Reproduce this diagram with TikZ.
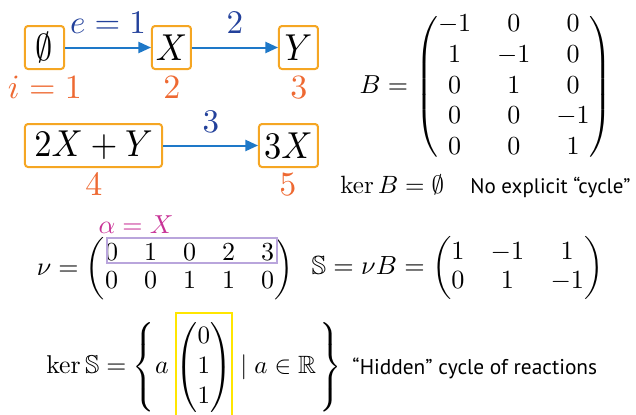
\documentclass[tikz,border=0pt]{standalone}
\usepackage{amsmath,amssymb}
\usepackage[no-math]{fontspec}
\newfontfamily\sansfnt{PT Sans}
\usetikzlibrary{arrows.meta}
\definecolor{boxorange}{RGB}{245,166,35}
\definecolor{arrowblue}{RGB}{30,120,200}
\definecolor{labelblue}{RGB}{35,65,155}
\definecolor{idxorange}{RGB}{238,105,50}
\definecolor{alphamag}{RGB}{200,50,150}
\definecolor{rowlav}{RGB}{185,165,220}
\definecolor{vecyellow}{RGB}{255,230,0}
\newcommand{\sbx}[2]{\scalebox{#1}{#2}}
\newcommand{\spc}[1]{\scalebox{1.38}[1.5]{#1}}
\newcommand{\vecph}{\vphantom{\begin{pmatrix}0\\1\\1\end{pmatrix}}}
\tikzset{
  species/.style={draw=boxorange, line width=0.8pt, rounded corners=1.2pt,
    minimum height=17.2pt, inner sep=0pt},
  reac/.style={draw=arrowblue, line width=0.8pt, -{Triangle[length=5pt,width=4.4pt]}},
  rlabel/.style={text=labelblue, inner sep=0pt},
  ilabel/.style={text=idxorange, inner sep=0pt},
  eqn/.style={inner sep=0pt},
  sanstext/.style={inner sep=0pt, font=\sansfnt\fontsize{8.4}{10}\selectfont},
}
\begin{document}
\begin{tikzpicture}[x=0.4pt,y=-0.4pt]
\useasboundingbox (0,0) rectangle (636,415);
% reaction network
\node[species, minimum width=15.6pt] (s1) at (44.5,47.5) {\spc{$\emptyset$}};
\node[species, minimum width=15.6pt] (s2) at (171.5,47.5) {\spc{$X$}};
\node[species, minimum width=15.6pt] (s3) at (298.5,47.5) {\spc{$Y$}};
\node[species, minimum width=54.8pt] (s4) at (93.5,145.5) {\spc{$2X+Y$}};
\node[species, minimum width=23.6pt] (s5) at (288.5,145.5) {\spc{$3X$}};
\draw[reac] (s1) -- (s2);
\draw[reac] (s2) -- (s3);
\draw[reac] (s4) -- (s5);
\node[rlabel] (e1) at (108,23) {\sbx{1.32}{$e=1$}};
\node[rlabel] (e2) at (235,23) {\sbx{1.32}{$2$}};
\node[rlabel] (e3) at (211,122) {\sbx{1.32}{$3$}};
\node[ilabel] (i1) at (45,87) {\sbx{1.36}{$i=1$}};
\node[ilabel] (i2) at (172,88) {\sbx{1.36}{$2$}};
\node[ilabel] (i3) at (299,88) {\sbx{1.36}{$3$}};
\node[ilabel] (i4) at (94,185) {\sbx{1.36}{$4$}};
\node[ilabel] (i5) at (288,185) {\sbx{1.36}{$5$}};
% B matrix
\node[eqn] (Bmat) at (486,87)
  {\sbx{1.04}{\fontsize{10}{11.8}\selectfont$B=\begin{pmatrix}-1&0&0\\1&-1&0\\0&1&0\\0&0&-1\\0&0&1\end{pmatrix}$}};
\node[eqn, anchor=base west] (kerB) at (340,193) {$\ker B=\emptyset$};
\node[sanstext, anchor=base west] (noexp) at (470,193) {No explicit “cycle”};
% nu matrix
\node[eqn] (numat) at (165,269)
  {\sbx{1.04}{\fontsize{10}{10.8}\selectfont$\nu=\begin{pmatrix}0&1&0&2&3\\0&0&1&1&0\end{pmatrix}$}};
\draw[rowlav, line width=0.5pt] (107,238) rectangle (277,263);
\node[eqn, text=alphamag] (alpha) at (136,225) {\sbx{1.04}{$\alpha=X$}};
% S matrix
\node[eqn] (Smat) at (457.5,268)
  {\sbx{1.05}{\fontsize{10}{11.4}\selectfont$\mathbb{S}=\nu B=\begin{pmatrix}1&-1&1\\0&1&-1\end{pmatrix}$}};
% kernel of S
\node[eqn, draw=vecyellow, line width=0.6pt, minimum width=20.8pt,
  minimum height=43.2pt] (vec) at (204,367)
  {\fontsize{10}{12}\selectfont$\begin{pmatrix}0\\1\\1\end{pmatrix}$};
\node[eqn, anchor=base east] (lhs) at (127,373) {\sbx{1.03}{$\ker\mathbb{S}=$}};
\node[eqn] (lbrace) at (145,367) {\fontsize{10}{12}\selectfont$\left\{\vecph\right.$};
\node[eqn, anchor=base] (acoef) at (162,373) {\sbx{1.03}{$a$}};
\node[eqn, anchor=base west] (rhs) at (240,373) {$\mid a\in\mathbb{R}$};
\node[eqn] (rbrace) at (329,367) {\fontsize{10}{12}\selectfont$\left.\vecph\right\}$};
\node[sanstext, anchor=base west, font=\sansfnt\fontsize{8.55}{10}\selectfont] (hidden) at (352,374) {“Hidden” cycle of reactions};
\end{tikzpicture}
\end{document}
